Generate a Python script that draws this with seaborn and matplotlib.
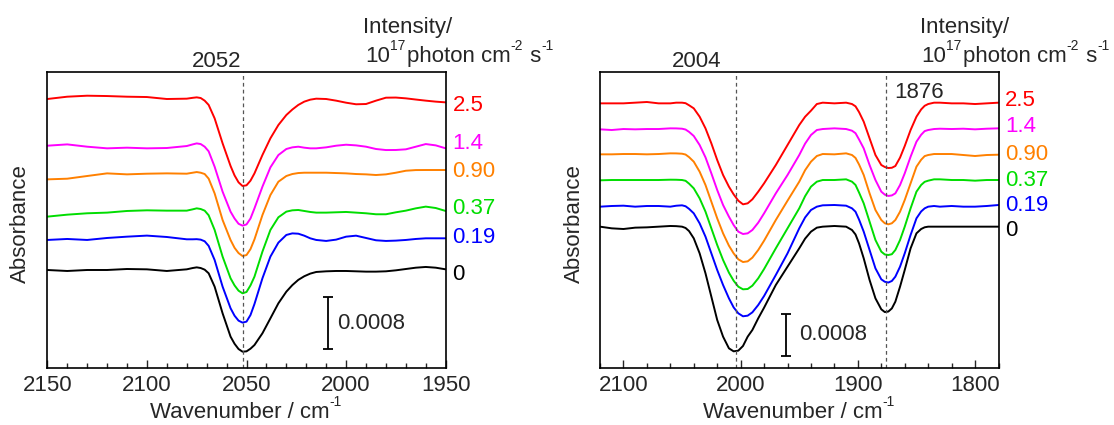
import numpy as np
import pandas as pd
import matplotlib
matplotlib.use("Agg")
import matplotlib.pyplot as plt
import matplotlib.transforms as mtransforms
from matplotlib.ticker import MultipleLocator
import seaborn as sns

# ---------------- data ----------------
intensity_labels = ["0", "0.19", "0.37", "0.90", "1.4", "2.5"]
colors = ["#000000", "#0000ff", "#00dd00", "#ff8000", "#ff00ff", "#ff0000"]

# Left panel: absorbance change (units of 1e-4) vs wavenumber
wn_left = [2150, 2140, 2130, 2120, 2110, 2100, 2090, 2080,
           2077, 2075, 2073, 2071, 2069,
           2066, 2062, 2058, 2056, 2054,
           2052, 2050, 2048, 2046,
           2042, 2038, 2034, 2030,
           2027, 2024, 2021, 2018, 2015,
           2010, 2005, 2000, 1995, 1990,
           1985, 1980, 1975, 1970, 1965,
           1960, 1955, 1950]
left_0 = [0, -0.15, 0, 0, 0.15, 0.1, -0.15, 0.1,
          0.3, 0.4, 0.3, 0.05, -0.5,
          -2.53, -6.58, -10.12, -11.2, -12.0,
          -12.4, -12.35, -11.95, -11.39,
          -9.61, -7.34, -5.06, -3.29,
          -2.3, -1.5, -0.95, -0.55, -0.3,
          -0.2, -0.15, -0.15, -0.2, -0.25,
          -0.25, -0.2, -0.05, 0.15, 0.35,
          0.46, 0.35, 0.1]
left_019 = [-0.1, 0.05, -0.1, 0.2, 0.4, 0.56, 0.35, 0,
            0, 0.02, -0.05, -0.3, -1.0,
            -3.14, -7.19, -10.47, -11.6, -12.35,
            -12.65, -12.5, -11.5, -9.82,
            -5.92, -2.63, -0.51, 0.66,
            0.9, 0.85, 0.55, 0.15, -0.1,
            -0.25, -0.05, 0.4, 0.55, 0.2,
            -0.15, -0.25, -0.2, -0.1, 0.05,
            0.15, 0.15, 0.15]
left_037 = [-0.76, -0.46, -0.25, -0.15, 0.1, 0.2, 0.15, 0.15,
            0.35, 0.5, 0.4, 0.15, -0.55,
            -2.78, -6.83, -10.12, -11.2, -12.0,
            -12.4, -12.2, -11.2, -9.87,
            -6.07, -2.78, -0.86, 0,
            0.2, 0.25, 0.1, -0.05, -0.15,
            -0.15, -0.1, -0.05, -0.15, -0.25,
            -0.4, -0.4, -0.1, 0.15, 0.5,
            0.76, 0.55, 0.1]
left_090 = [-0.91, -0.81, -0.4, 0, -0.15, -0.05, 0, -0.05,
            0.1, 0.2, 0.1, -0.1, -0.8,
            -3.04, -7.08, -10.12, -11.3, -12.1,
            -12.55, -12.4, -11.5, -10.02,
            -6.33, -3.29, -1.27, -0.4,
            -0.1, 0.05, 0.1, 0.1, 0.1,
            0.1, 0.05, 0, -0.1, -0.15,
            -0.25, -0.15, 0.1, 0.4, 0.5,
            0.51, 0.51, 0.51]
left_14 = [0.15, 0.35, 0, -0.25, -0.15, -0.25, -0.2, 0.1,
           0.35, 0.5, 0.4, 0, -0.7,
           -3.04, -6.83, -9.87, -10.9, -11.7,
           -11.99, -11.8, -10.9, -9.36,
           -6.07, -3.14, -1.27, -0.35,
           -0.1, 0, -0.15, -0.25, -0.25,
           -0.1, 0.15, 0.3, 0.2, 0,
           -0.35, -0.51, -0.5, -0.4, 0,
           0.4, 0.2, -0.25]
left_25 = [-0.1, 0.25, 0.4, 0.35, 0.25, 0.2, -0.1, -0.05,
           0.08, 0.15, 0.05, -0.35, -1.0,
           -3.04, -6.83, -10.27, -11.7, -12.75,
           -13.31, -13.2, -12.5, -11.39,
           -8.6, -6.07, -4.05, -2.53,
           -1.7, -1.0, -0.5, -0.2, -0.05,
           -0.1, -0.35, -0.66, -0.9, -0.86,
           -0.35, 0.1, 0.12, 0, -0.18,
           -0.35, -0.5, -0.61]
left_offsets = [0, 4.66, 8.86, 14.67, 18.72, 26.06]
left_label_y = [-0.61, 4.86, 9.41, 14.88, 19.28, 24.9]

# Right panel
wn_right = [2120, 2110, 2100, 2090, 2080, 2070, 2060,
            2055, 2050, 2047, 2044, 2040,
            2035, 2030, 2025, 2020, 2015, 2010,
            2006, 2002, 1998, 1994, 1990,
            1985, 1980, 1970, 1960, 1950,
            1945, 1940, 1935, 1930,
            1920, 1910, 1905, 1902, 1899,
            1895, 1890, 1885, 1880,
            1877, 1874, 1871, 1868,
            1864, 1860, 1855, 1850,
            1846, 1843, 1840,
            1835, 1830,
            1820, 1810, 1800, 1790, 1780]
right_0 = [0, -0.32, -0.45, -0.19, -0.13, 0, 0.13,
           0.1, 0, -0.25, -0.85, -2.24,
           -5.12, -8.96, -13.44, -17.92, -21.12, -23.36,
           -23.94, -23.81, -22.91, -21.12, -19.84,
           -17.6, -15.55, -11.2, -7.68, -4.16,
           -2.3, -0.96, -0.19, 0,
           0.13, 0, -0.64, -1.5, -3.2,
           -6.08, -10.24, -13.76, -15.87,
           -16.4, -16.3, -15.7, -14.4,
           -11.52, -8.32, -4.16, -1.28,
           -0.45, -0.12, 0,
           0, 0,
           0, 0, 0, 0, 0]
right_019 = [-0.13, 0, 0.06, -0.13, 0, 0, -0.13,
             0.05, 0.13, -0.05, -0.55, -1.41,
             -3.33, -5.89, -9.09, -12.29, -15.17, -17.73,
             -19.46, -20.61, -21.18, -21.06, -20.42,
             -19.01, -17.28, -13.25, -9.09, -4.29,
             -2.2, -0.77, -0.13, 0.13,
             0.19, 0.06, -0.45, -1.1, -2.6,
             -4.93, -8.45, -11.97, -14.08,
             -14.55, -14.7, -14.4, -13.57,
             -11.65, -9.09, -5.57, -2.37,
             -1.05, -0.45, -0.13,
             0, -0.13,
             0, -0.13, -0.13, 0, 0.19]
right_037 = [-0.06, 0, 0, 0, 0, 0, 0.06,
             0.05, 0, -0.15, -0.7, -1.6,
             -3.52, -6.08, -9.28, -12.48, -15.36, -17.79,
             -19.33, -20.48, -20.99, -20.93, -20.29,
             -18.88, -17.09, -13.12, -9.28, -5.44,
             -3.1, -1.28, -0.32, 0,
             0, 0.13, -0.32, -0.95, -2.4,
             -4.48, -8.0, -11.52, -13.76,
             -14.3, -14.4, -14.25, -13.44,
             -11.52, -8.96, -5.44, -2.24,
             -0.95, -0.35, -0.13,
             0.13, 0.13,
             0, 0, -0.13, 0, 0]
right_090 = [-0.06, -0.06, 0, 0, -0.06, 0, 0.13,
             0.12, 0.06, -0.1, -0.6, -1.47,
             -3.39, -5.95, -9.15, -12.35, -15.23, -17.6,
             -19.07, -20.22, -20.74, -20.61, -19.9,
             -18.43, -16.64, -12.67, -8.96, -5.31,
             -3.1, -1.47, -0.38, 0,
             -0.06, 0.13, -0.19, -0.75, -2.0,
             -4.03, -7.55, -10.75, -12.67,
             -13.3, -13.5, -13.3, -12.67,
             -11.07, -8.83, -5.63, -2.43,
             -1.1, -0.4, -0.19,
             0, 0,
             0, -0.19, -0.38, -0.19, -0.13]
right_14 = [-0.06, -0.19, 0, -0.06, 0, 0, 0.13,
            0.12, 0.06, -0.1, -0.55, -1.34,
            -3.07, -5.44, -8.51, -11.71, -14.59, -16.83,
            -18.43, -19.71, -20.16, -20.03, -19.39,
            -17.98, -16.19, -12.35, -8.83, -4.99,
            -2.8, -1.15, -0.19, 0,
            0.13, 0, -0.32, -0.8, -2.0,
            -3.71, -6.91, -9.79, -12.03,
            -12.6, -12.85, -12.75, -12.35,
            -10.75, -8.51, -5.31, -2.43,
            -1.1, -0.4, -0.19,
            0, 0.06,
            0, 0.06, -0.06, 0.06, 0.13]
right_25 = [-0.13, -0.13, -0.13, 0, 0.13, -0.13, -0.13,
            0, 0, -0.1, -0.5, -1.09,
            -2.69, -4.93, -7.81, -11.01, -13.89, -16.13,
            -17.6, -18.82, -19.52, -19.33, -18.56,
            -17.09, -15.49, -11.97, -8.13, -4.29,
            -2.7, -1.54, -0.26, 0,
            -0.13, 0, -0.26, -0.7, -1.8,
            -3.65, -6.85, -10.05, -11.97,
            -12.35, -12.55, -12.5, -12.16,
            -10.55, -8.32, -5.25, -2.69,
            -1.3, -0.6, -0.26,
            0, 0,
            -0.13, -0.13, -0.26, -0.13, 0]
right_offsets = [0, 3.97, 8.96, 13.95, 18.75, 23.81]
right_label_y = [-0.83, 3.97, 8.96, 13.95, 19.33, 24.32]

scale_bar_value = 0.0008  # absorbance; data units are 1e-4

# ---------------- style ----------------
sns.set_style("ticks")
plt.rcParams["font.family"] = ["Liberation Sans", "DejaVu Sans"]
FS = 16
SUP_FS = 10
SUP_RISE = 12.5

W, H = 1114, 425
fig = plt.figure(figsize=(W / 100, H / 100), dpi=100)
renderer = fig.canvas.get_renderer()

ax_l = fig.add_axes([47.3 / W, 1 - 368 / H, (445.7 - 47.3) / W, (368 - 72) / H])
ax_r = fig.add_axes([600 / W, 1 - 368 / H, (998.5 - 600) / W, (368 - 72) / H])


def rich(x_px, y_px, pieces, align="left"):
    """Place text pieces (with superscripts) so that the baseline is at y_px."""
    objs = []
    x = 0.0
    for s, sup in pieces:
        t = fig.text(0, 0, s, fontsize=SUP_FS if sup else FS, ha="left", va="baseline")
        w = t.get_window_extent(renderer).width
        objs.append((t, x, SUP_RISE if sup else 0.0))
        x += w + (1.5 if sup else 0.0)
    x0 = x_px - x / 2 if align == "center" else x_px
    for t, dx, dy in objs:
        t.set_position(((x0 + dx) / W, 1 - (y_px - dy) / H))


def make_df(wn, series, offsets):
    rows = []
    for lab, vals, off in zip(intensity_labels, series, offsets):
        assert len(vals) == len(wn)
        for x, v in zip(wn, vals):
            rows.append({"wn": x, "A": v + off, "I": lab})
    return pd.DataFrame(rows)


df_l = make_df(wn_left, [left_0, left_019, left_037, left_090, left_14, left_25], left_offsets)
df_r = make_df(wn_right, [right_0, right_019, right_037, right_090, right_14, right_25], right_offsets)

pal = dict(zip(intensity_labels, colors))


def style_axis(ax, xlim, ylim, major, minor, label_y):
    ax.set_xlim(*xlim)
    ax.set_ylim(*ylim)
    ax.xaxis.set_major_locator(MultipleLocator(major))
    ax.xaxis.set_minor_locator(MultipleLocator(minor))
    ax.tick_params(axis="x", which="both", direction="in", top=False, bottom=True,
                   labelsize=FS, pad=5, width=1.0)
    ax.tick_params(axis="x", which="major", length=6)
    ax.tick_params(axis="x", which="minor", length=3.5)
    ax.set_yticks([])
    for s in ax.spines.values():
        s.set_visible(True)
        s.set_linewidth(1.2)
        s.set_color("black")
    ax.set_xlabel("")
    ax.set_ylabel("")
    trans = mtransforms.blended_transform_factory(ax.transAxes, ax.transData)
    for lab, y, c in zip(intensity_labels, label_y, colors):
        ax.text(1.017, y, lab, transform=trans, color=c, fontsize=FS, ha="left", va="center",
                clip_on=False)


for ax, df in ((ax_l, df_l), (ax_r, df_r)):
    sns.lineplot(data=df, x="wn", y="A", hue="I", hue_order=intensity_labels, palette=pal,
                 legend=False, ax=ax, linewidth=1.4, estimator=None, sort=True)
    for ln in ax.get_lines():
        ln.set_solid_joinstyle("round")

style_axis(ax_l, (2150, 1950), (-14.88, 30.06), 50, 10, left_label_y)
style_axis(ax_r, (2120, 1780), (-27.14, 29.7), 100, 20, right_label_y)

# dashed reference lines
ax_l.axvline(2052, color="#555555", ls=(0, (3, 2.5)), lw=0.9)
ax_r.axvline(2004, color="#555555", ls=(0, (3, 2.5)), lw=0.9)
ax_r.axvline(1876, color="#555555", ls=(0, (3, 2.5)), lw=0.9)

# scale bars
bar = scale_bar_value * 1e4
ax_l.errorbar([2009], [-8.05], yerr=[[bar / 2], [bar / 2]], fmt="none", ecolor="black",
              elinewidth=1.3, capsize=3.5, capthick=1.3)
ax_l.text(2004.3, -8.1, "0.0008", fontsize=FS, ha="left", va="center")
ax_r.errorbar([1961], [-20.83], yerr=[[bar / 2], [bar / 2]], fmt="none", ecolor="black",
              elinewidth=1.3, capsize=3.5, capthick=1.3)
ax_r.text(1950.5, -20.8, "0.0008", fontsize=FS, ha="left", va="center")

# axis labels
for xc in ((47.3 + 445.7) / 2, (600 + 998.5) / 2):
    rich(xc, 418, [("Wavenumber / cm", False), ("-1", True)], align="center")
for xc in (20.5, 574):
    fig.text(xc / W, 1 - 224 / H, "Absorbance", fontsize=FS, rotation=90, ha="center",
             va="center")

# annotations
fig.text(217 / W, 1 - 67 / H, "2052", fontsize=FS, ha="center", va="baseline")
fig.text(697 / W, 1 - 67 / H, "2004", fontsize=FS, ha="center", va="baseline")
fig.text(894 / W, 1 - 98 / H, "1876", fontsize=FS, ha="left", va="baseline")
for x0 in (363.3, 919.5):
    fig.text(x0 / W, 1 - 33.5 / H, "Intensity/", fontsize=FS, ha="left", va="baseline")
    rich(x0 + 1.5, 62, [("10", False), ("17", True), ("photon cm", False), ("-2", True),
                        (" s", False), ("-1", True)])

fig.savefig("out.png", dpi=100)
